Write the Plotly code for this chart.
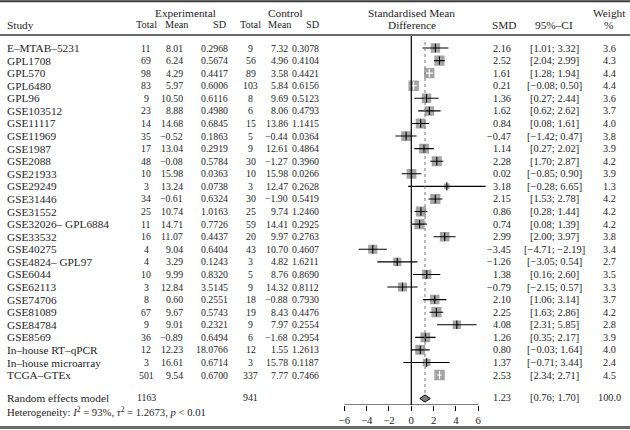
import plotly.graph_objects as go

studies = ["E–MTAB–5231", "GPL1708", "GPL570", "GPL6480", "GPL96", "GSE103512", "GSE11117",
           "GSE11969", "GSE1987", "GSE2088", "GSE21933", "GSE29249", "GSE31446", "GSE31552",
           "GSE32026– GPL6884", "GSE33532", "GSE40275", "GSE4824– GPL97", "GSE6044", "GSE62113",
           "GSE74706", "GSE81089", "GSE84784", "GSE8569", "In–house RT–qPCR",
           "In–house microarray", "TCGA–GTEx"]
exp_total = [11, 69, 98, 83, 9, 23, 14, 35, 17, 48, 10, 3, 34, 25, 11, 16, 4, 4, 10, 3, 8, 67, 9, 36, 12, 3, 501]
exp_mean = [8.01, 6.24, 4.29, 5.97, 10.50, 8.88, 14.68, -0.52, 13.04, -0.08, 15.98, 13.24, -0.61, 10.74,
            14.71, 11.07, 9.04, 3.29, 9.99, 12.84, 0.60, 9.67, 9.01, -0.89, 12.23, 16.61, 9.54]
exp_sd = [0.2968, 0.5674, 0.4417, 0.6006, 0.6116, 0.4980, 0.6845, 0.1863, 0.2919, 0.5784, 0.0363,
          0.0738, 0.6324, 1.0163, 0.7726, 0.4437, 0.6404, 0.1243, 0.8320, 3.5145, 0.2551, 0.5743,
          0.2321, 0.6494, 18.0766, 0.6714, 0.6700]
ctrl_total = [9, 56, 89, 103, 8, 6, 15, 5, 9, 30, 10, 3, 30, 25, 59, 20, 43, 3, 5, 9, 18, 19, 9, 6, 12, 3, 337]
ctrl_mean = [7.32, 4.96, 3.58, 5.84, 9.69, 8.06, 13.86, -0.44, 12.61, -1.27, 15.98, 12.47, -1.90, 9.74,
             14.41, 9.97, 10.70, 4.82, 8.76, 14.32, -0.88, 8.43, 7.97, -1.68, 1.55, 15.78, 7.77]
ctrl_sd = [0.3078, 0.4104, 0.4421, 0.6156, 0.5123, 0.4793, 1.1415, 0.0364, 0.4864, 0.3960, 0.0266,
           0.2628, 0.5419, 1.2460, 0.2925, 0.2763, 0.4607, 1.6211, 0.8690, 0.8112, 0.7930, 0.4476,
           0.2554, 0.2954, 1.2613, 0.1187, 0.7466]
smd = [2.16, 2.52, 1.61, 0.21, 1.36, 1.62, 0.84, -0.47, 1.14, 2.28, 0.02, 3.18, 2.15, 0.86, 0.74, 2.99,
       -3.45, -1.26, 1.38, -0.79, 2.10, 2.25, 4.08, 1.26, 0.80, 1.37, 2.53]
ci_lo = [1.01, 2.04, 1.28, -0.08, 0.27, 0.62, 0.08, -1.42, 0.27, 1.70, -0.85, -0.28, 1.53, 0.28, 0.08,
         2.00, -4.71, -3.05, 0.16, -2.15, 1.06, 1.63, 2.31, 0.35, -0.03, -0.71, 2.34]
ci_hi = [3.32, 2.99, 1.94, 0.50, 2.44, 2.62, 1.61, 0.47, 2.02, 2.87, 0.90, 6.65, 2.78, 1.44, 1.39, 3.97,
         -2.19, 0.54, 2.60, 0.57, 3.14, 2.86, 5.85, 2.17, 1.64, 3.44, 2.71]
weight = [3.6, 4.3, 4.4, 4.4, 3.6, 3.7, 4.0, 3.8, 3.9, 4.2, 3.9, 1.3, 4.2, 4.2, 4.2, 3.8, 3.4, 2.7, 3.5,
          3.3, 3.7, 4.2, 2.8, 3.9, 4.0, 2.4, 4.5]
pooled = {"smd": 1.23, "lo": 0.76, "hi": 1.70, "exp_total": 1163, "ctrl_total": 941, "weight": 100.0}
het_text = "Heterogeneity: <i>I</i><sup>2</sup> = 93%, <i>τ</i><sup>2</sup> = 1.2673, <i>p</i> < 0.01"
x_ticks = [-6, -4, -2, 0, 2, 4, 6]

W, H = 630, 430
FONT = "Liberation Serif"
TC = "#1e1e1e"
FS_LAB = 11.3   # study names, headers
FS_NUM = 9.8    # numeric table columns
PX0, PXU = 411.3, 11.167   # pixel of 0 and pixels per unit
AXIS_Y = 405

def row_y(i):
    return 48 + i * 12.58

def fmt(v, d):
    s = f"{abs(v):.{d}f}"
    return ("−" + s) if v < 0 else s

fig = go.Figure()
n = len(studies)
ys = [row_y(i) for i in range(n)]

# boxes
sizes = [10.5 * (w / 4.5) ** 0.5 for w in weight]
fig.add_trace(go.Scatter(x=smd, y=ys, mode="markers",
                         marker=dict(symbol="square", size=sizes, color="#7d7d7d", line=dict(width=0)),
                         hoverinfo="skip"))

# CI lines, black or white depending on whether CI fits inside the box
bx, by, wx, wy = [], [], [], []
tbx, tby, twx, twy = [], [], [], []
for i in range(n):
    inside = (ci_hi[i] - ci_lo[i]) * PXU < sizes[i]
    if inside:
        wx += [ci_lo[i], ci_hi[i], None]; wy += [ys[i], ys[i], None]
        twx.append(smd[i]); twy.append(ys[i])
    else:
        bx += [ci_lo[i], ci_hi[i], None]; by += [ys[i], ys[i], None]
        tbx.append(smd[i]); tby.append(ys[i])
fig.add_trace(go.Scatter(x=bx, y=by, mode="lines", line=dict(color="black", width=1.1), hoverinfo="skip"))
fig.add_trace(go.Scatter(x=wx, y=wy, mode="lines", line=dict(color="white", width=1.1), hoverinfo="skip"))
fig.add_trace(go.Scatter(x=tbx, y=tby, mode="markers",
                         marker=dict(symbol="line-ns-open", size=6, color="black",
                                     line=dict(color="black", width=1.1)),
                         hoverinfo="skip"))
fig.add_trace(go.Scatter(x=twx, y=twy, mode="markers",
                         marker=dict(symbol="line-ns-open", size=6, color="white",
                                     line=dict(color="white", width=1.1)),
                         hoverinfo="skip"))

# pooled diamond
yd = 398.5
fig.add_trace(go.Scatter(x=[pooled["lo"], pooled["smd"], pooled["hi"], pooled["smd"], pooled["lo"]],
                         y=[yd, yd - 3.6, yd, yd + 3.6, yd], mode="lines", fill="toself",
                         fillcolor="#7d7d7d", line=dict(color="black", width=1), hoverinfo="skip"))

shapes = []
shapes.append(dict(type="line", xref="x", yref="y", x0=0, x1=0, y0=36, y1=AXIS_Y,
                   line=dict(color="black", width=1.2)))
shapes.append(dict(type="line", xref="x", yref="y", x0=pooled["smd"], x1=pooled["smd"], y0=42, y1=395,
                   line=dict(color="#777777", width=1, dash="dot")))
shapes.append(dict(type="line", xref="x", yref="y", x0=x_ticks[0], x1=x_ticks[-1], y0=AXIS_Y, y1=AXIS_Y,
                   line=dict(color="black", width=1.1)))

def hline(ypx, color, width):
    shapes.append(dict(type="line", xref="paper", yref="paper", x0=0, x1=1,
                       y0=1 - ypx / H, y1=1 - ypx / H, line=dict(color=color, width=width)))
hline(1.2, "#3a3a3a", 2)
hline(35, "#6a6a6a", 2)
hline(427.5, "#6a6a6a", 3)

ann = []
def txt(xpx, ypx, s, anchor="center", size=FS_LAB):
    ann.append(dict(x=xpx / W, y=1 - ypx / H, xref="paper", yref="paper", text=s, showarrow=False,
                    xanchor=anchor, yanchor="middle", font=dict(family=FONT, size=size, color=TC)))

# headers
txt(185, 13, "Experimental")
txt(285, 13, "Control")
txt(411, 13, "Standardised Mean")
txt(609, 13, "Weight")
txt(5, 25, "Study", "left")
txt(146, 25, "Total", size=10.3)
txt(176.5, 25, "Mean", size=10.3)
txt(220, 25, "SD", size=10.3)
txt(250.5, 25, "Total", size=10.3)
txt(279, 25, "Mean", size=10.3)
txt(313, 25, "SD", size=10.3)
txt(412, 25, "Difference")
txt(504, 25, "SMD")
txt(554, 25, "95%–CI")
txt(609, 25, "%")

for i in range(n):
    y = ys[i]
    txt(5, y, studies[i], "left")
    txt(146, y, str(exp_total[i]), size=FS_NUM)
    txt(185, y, fmt(exp_mean[i], 2), "right", size=FS_NUM)
    txt(230, y, fmt(exp_sd[i], 4), "right", size=FS_NUM)
    txt(251, y, str(ctrl_total[i]), size=FS_NUM)
    txt(290, y, fmt(ctrl_mean[i], 2), "right", size=FS_NUM)
    txt(320.5, y, fmt(ctrl_sd[i], 4), "right", size=FS_NUM)
    txt(513, y, fmt(smd[i], 2), "right", size=10.3)
    txt(554, y, f"[{fmt(ci_lo[i], 2)}; {fmt(ci_hi[i], 2)}]", size=10.5)
    txt(609, y, f"{weight[i]:.1f}", size=10.3)

yr = 397.5
txt(5, yr, "Random effects model", "left")
txt(146, yr, str(pooled["exp_total"]), size=FS_NUM)
txt(251, yr, str(pooled["ctrl_total"]), size=FS_NUM)
txt(513, yr, fmt(pooled["smd"], 2), "right", size=10.3)
txt(554, yr, f"[{fmt(pooled['lo'], 2)}; {fmt(pooled['hi'], 2)}]", size=10.5)
txt(609, yr, f"{pooled['weight']:.1f}", size=10.3)
txt(5, 411.5, het_text, "left", size=10.7)

xr = [-7, 7]
fig.update_layout(
    width=W, height=H, autosize=False, margin=dict(l=0, r=0, t=0, b=0),
    paper_bgcolor="white", plot_bgcolor="white", showlegend=False,
    shapes=shapes, annotations=ann,
    xaxis=dict(domain=[(PX0 + xr[0] * PXU) / W, (PX0 + xr[1] * PXU) / W], range=xr,
               tickvals=x_ticks, ticktext=[fmt(v, 0) for v in x_ticks],
               ticks="outside", ticklen=5, tickwidth=1.1, tickcolor="black",
               showgrid=False, zeroline=False, showline=False, fixedrange=True,
               tickfont=dict(family=FONT, size=10.8, color=TC)),
    yaxis=dict(domain=[1 - AXIS_Y / H, 1], range=[AXIS_Y, 0], visible=False, fixedrange=True),
)

fig.write_html("out.html", config={"displayModeBar": False},
               post_script="document.body.style.margin='0px';document.body.style.overflow='hidden';")
